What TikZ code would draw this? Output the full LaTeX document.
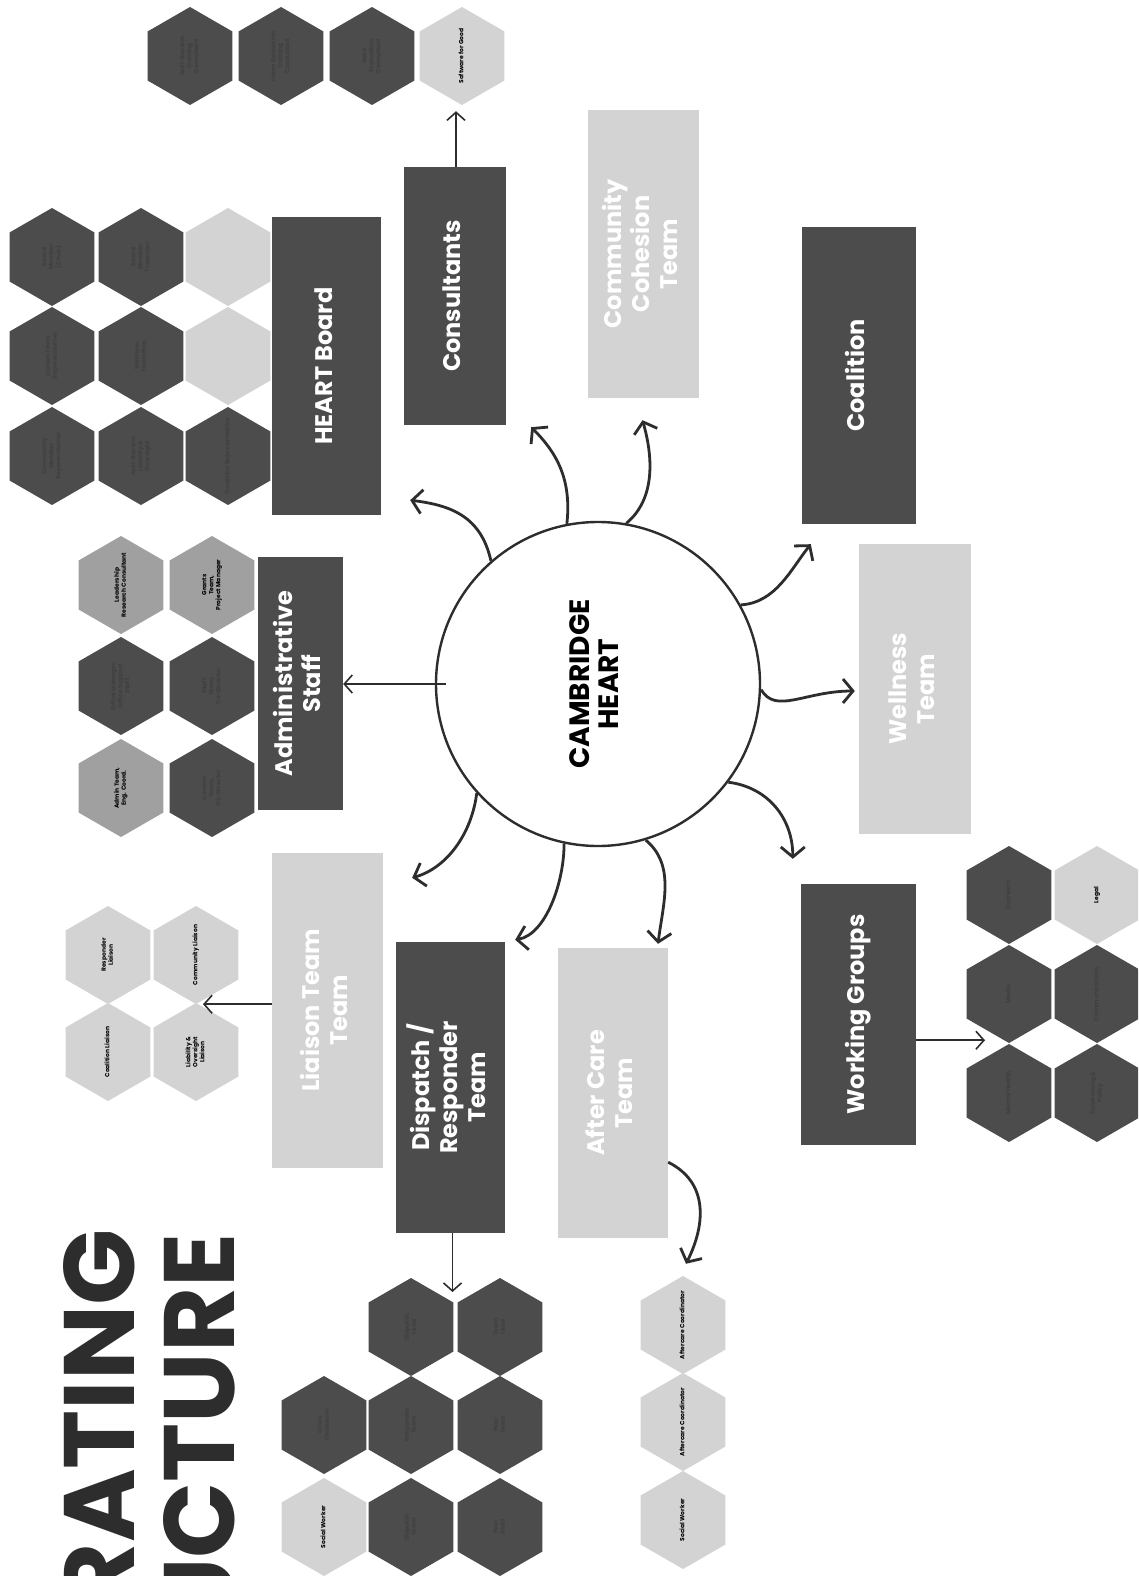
\documentclass[tikz,border=0pt]{standalone}
\usepackage{fontspec}
\setmainfont{Poppins}
\usepackage{tikz}
\usetikzlibrary{arrows.meta,calc,shapes.geometric}

\definecolor{boxdark}{HTML}{4B4C4B}
\definecolor{boxlight}{HTML}{D3D3D3}
\definecolor{boxmid}{HTML}{A0A0A0}
\definecolor{inkline}{HTML}{2C2D2C}

\newcommand{\vlabel}[1]{\rotatebox{90}{\begin{tabular}{@{}c@{}}#1\end{tabular}}}
\newcommand{\hxlabel}[1]{\makebox[0pt]{\raisebox{-0.5\height}[0pt][0pt]{\vlabel{#1}}}}

\tikzset{
  darkbox/.style={fill=boxdark,inner sep=0pt,text=white,font=\fontsize{24}{28}\selectfont\bfseries},
  lightbox/.style={fill=boxlight,inner sep=0pt,text=white,font=\fontsize{24}{28}\selectfont\bfseries},
  hex/.style={regular polygon,regular polygon sides=6,shape border rotate=30,minimum size=98pt,inner sep=0pt,font=\fontsize{6}{7}\selectfont\bfseries},
  hexdark/.style={hex,fill=boxdark,text=black!75},
  hexlight/.style={hex,fill=boxlight,text=black},
  hexmid/.style={hex,fill=boxmid,text=black},
  spoke/.style={draw=inkline,line width=2.8pt,-{Straight Barb[length=10pt,width=24pt]}},
  feed/.style={draw=inkline,line width=1.6pt,-{Straight Barb[length=8pt,width=18pt]}}
}

\begin{document}
\begin{tikzpicture}[x=1pt,y=-1pt]
    \useasboundingbox (0,0) rectangle (1138,1576);
    \fill[white] (0,0) rectangle (1138,1576);
    \clip (0,0) rectangle (1138,1576);

    \node[anchor=north east,inner sep=0pt,text=inkline,font=\fontsize{100}{100}\selectfont\bfseries] (title1) at (135,1229) {\rotatebox{90}{RATING}};
    \node[anchor=north east,inner sep=0pt,text=inkline,font=\fontsize{100}{100}\selectfont\bfseries] (title2) at (235,1233) {\rotatebox{90}{UCTURE}};

    \node[circle,draw=inkline,line width=2.4pt,minimum size=324pt,inner sep=0pt,font=\fontsize{28}{29}\selectfont\bfseries] (heart) at (598,684) {\vlabel{CAMBRIDGE\\HEART}};

    \node[darkbox,minimum width=85pt,minimum height=253pt] (admin) at (300.5,683.5) {\vlabel{Administrative\\Staff}};
    \node[darkbox,minimum width=109pt,minimum height=298pt] (board) at (326.5,366) {\vlabel{HEART Board}};
    \node[darkbox,minimum width=102pt,minimum height=258pt] (consult) at (455,296) {\vlabel{Consultants}};
    \node[lightbox,minimum width=111pt,minimum height=288pt] (cohesion) at (643.5,254) {\vlabel{Community\\Cohesion\\Team}};
    \node[darkbox,minimum width=114pt,minimum height=297pt] (coalition) at (859,375.5) {\vlabel{Coalition}};
    \node[lightbox,minimum width=112pt,minimum height=290pt] (wellness) at (915,689) {\vlabel{Wellness\\Team}};
    \node[darkbox,minimum width=115pt,minimum height=261pt] (working) at (858.5,1014.5) {\vlabel{Working Groups}};
    \node[lightbox,minimum width=110pt,minimum height=290pt] (aftercare) at (613,1093) {\vlabel{After Care\\Team}};
    \node[darkbox,minimum width=109pt,minimum height=291pt] (dispatch) at (450.5,1087.5) {\vlabel{Dispatch /\\Responder\\Team}};
    \node[lightbox,minimum width=111pt,minimum height=315pt] (liaison) at (327.5,1010.5) {\vlabel{Liaison Team\\Team}};

    \node[hexdark] (c1) at (190,56) {\hxlabel{Anti-Racism\\Training\\Consultant}};
    \node[hexdark] (c2) at (281,56) {\hxlabel{Harm Reduction\\Training\\Consultant}};
    \node[hexdark] (c3) at (372,56) {\hxlabel{Data\\Evaluation\\Consultant}};
    \node[hexlight] (c4) at (462,56) {\hxlabel{Software for Good}};

    \node[hexdark] (b11) at (52,257) {\hxlabel{Board\\Member\\(Chair)}};
    \node[hexdark] (b12) at (52,356) {\hxlabel{Liaison Team\\Representative}};
    \node[hexdark] (b13) at (52,456) {\hxlabel{Community\\Member\\Representative}};
    \node[hexdark] (b21) at (141,257) {\hxlabel{Board\\Member\\Treasurer}};
    \node[hexdark] (b22) at (141,356) {\hxlabel{Wellness\\Team Rep.}};
    \node[hexdark] (b23) at (141,456) {\hxlabel{Anti-Racism\\Liability \&\\Oversight}};
    \node[hexlight] (b31) at (228,257) {};
    \node[hexlight] (b32) at (228,356) {};
    \node[hexdark] (b33) at (228,456) {\hxlabel{Coalition Representative}};

    \node[hexmid] (a11) at (121,585) {\hxlabel{Leadership\\Research Consultant}};
    \node[hexmid] (a21) at (212,585) {\hxlabel{Grants\\Team,\\Project Manager}};
    \node[hexdark] (a12) at (121,686) {\hxlabel{Office Manager,\\Office Support\\Staff}};
    \node[hexdark] (a22) at (212,686) {\hxlabel{Staff\\Team,\\Co-Director}};
    \node[hexmid] (a13) at (121,788) {\hxlabel{Admin Team,\\Eng. Coord.}};
    \node[hexdark] (a23) at (212,788) {\hxlabel{Comms\\Team,\\Co-Director}};

    \node[hexlight] (lia1) at (108,955) {\hxlabel{Responder\\Liaison}};
    \node[hexlight] (lia2) at (196,955) {\hxlabel{Community Liaison}};
    \node[hexlight] (lia3) at (108,1052) {\hxlabel{Coalition Liaison}};
    \node[hexlight] (lia4) at (196,1052) {\hxlabel{Liability \&\\Oversight\\Liaison}};

    \node[hexdark] (d12) at (411,1327) {\hxlabel{Dispatch\\Lead}};
    \node[hexdark] (d13) at (500,1327) {\hxlabel{Team\\Lead}};
    \node[hexdark] (d21) at (324,1425) {\hxlabel{Crisis\\Counselor}};
    \node[hexdark] (d22) at (411,1425) {\hxlabel{Responder\\Team}};
    \node[hexdark] (d23) at (500,1425) {\hxlabel{Peer\\Team}};
    \node[hexlight] (d31) at (324,1527) {\hxlabel{Social Worker}};
    \node[hexdark] (d32) at (411,1527) {\hxlabel{Dispatch\\Team}};
    \node[hexdark] (d33) at (500,1527) {\hxlabel{Peer\\Staff}};

    \node[hexlight] (f1) at (683,1325) {\hxlabel{Aftercare Coordinator}};
    \node[hexlight] (f2) at (683,1422) {\hxlabel{Aftercare Coordinator}};
    \node[hexlight] (f3) at (683,1520) {\hxlabel{Social Worker}};

    \node[hexdark] (w11) at (1009,895) {\hxlabel{Outreach}};
    \node[hexdark] (w12) at (1009,994) {\hxlabel{Media}};
    \node[hexdark] (w13) at (1009,1093) {\hxlabel{Mental Health}};
    \node[hexlight] (w21) at (1097,895) {\hxlabel{Legal}};
    \node[hexdark] (w22) at (1097,994) {\hxlabel{Communications}};
    \node[hexdark] (w23) at (1097,1093) {\hxlabel{Fundraising \&\\Policy}};

    \draw[spoke] (heart.131) .. controls +(-10,-45) and +(40,5) .. ($(board.south east)+(29,-15)$);
    \draw[spoke] (heart.101) .. controls +(5,-45) and +(25,25) .. ($(consult.south east)+(25,2)$);
    \draw[spoke] (heart.80) .. controls +(30,-25) and +(10,35) .. ($(cohesion.south)+(-1,22)$);
    \draw[spoke] (heart.29) .. controls +(35,-2) and +(-20,25) .. ($(coalition.south west)+(9,20)$);
    \draw[spoke] (heart.-2) .. controls +(15,25) and +(-50,0) .. ($(wellness.west)+(-4,2)$);
    \draw[spoke] (heart.-37) .. controls +(40,5) and +(0,-40) .. ($(working.north west)+(-8,-25)$);
    \draw[spoke] (heart.-73) .. controls +(30,25) and +(5,-40) .. ($(aftercare.north)+(45,-4)$);
    \draw[spoke] (heart.-102) .. controls +(0,40) and +(30,-5) .. ($(dispatch.north east)+(10,-2)$);
    \draw[spoke] (heart.-138) .. controls +(-5,40) and +(35,-10) .. ($(liaison.north east)+(29,25)$);
    \draw[feed] ($(heart.west)+(11,0)$) -- (admin.east |- heart.west);

    \coordinate (ltip) at ($(lia2.south)+(7,0)$);
    \coordinate (wtip) at ($(w12.south)+(-24,-3)$);
    \coordinate (dtip) at ($(d12)!0.5!(d13)+(-3,-35)$);
    \coordinate (ctip) at ($(c4.south)+(-6,6)$);
    \draw[feed] (liaison.west |- ltip) -- (ltip);
    \draw[feed] (working.east |- wtip) -- (wtip);
    \draw[feed] (dtip |- dispatch.south) -- (dtip);
    \draw[feed] (ctip |- consult.north) -- (ctip);
    \draw[spoke] ($(aftercare.south east)+(0,-76)$) .. controls +(40,20) and +(20,-40) .. ($(f1.north)+(3,-12)$);
\end{tikzpicture}
\end{document}
